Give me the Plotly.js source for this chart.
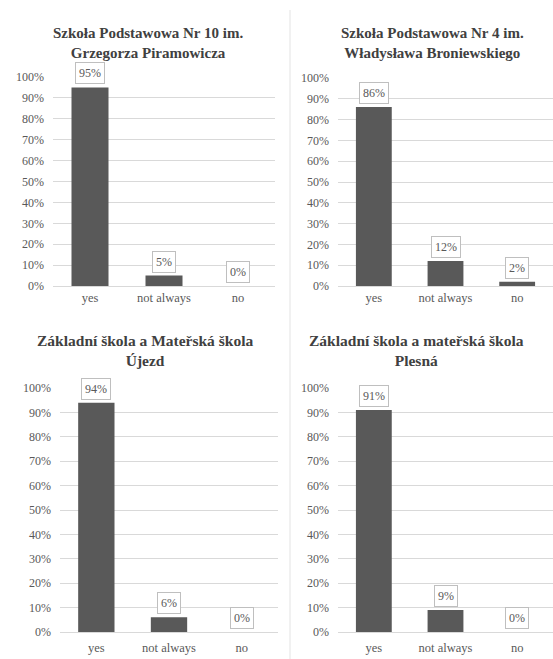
<!DOCTYPE html>
<html>
<head>
<meta charset="utf-8">
<script src="https://cdn.plot.ly/plotly-3.0.1.min.js"></script>
<style>
  html, body { margin: 0; padding: 0; background: #fff; }
  #chart { width: 553px; height: 659px; }
</style>
</head>
<body>
<div id="chart"></div>
<script>
const categories = ['yes', 'not always', 'no'];

const schoolTitles = [
  'Szkoła Podstawowa Nr 10 im.<br>Grzegorza Piramowicza',
  'Szkoła Podstawowa Nr 4 im.<br>Władysława Broniewskiego',
  'Základní škola a Mateřská škola<br>Újezd',
  'Základní škola a mateřská škola<br>Plesná'
];

const valuesPiramowicza = [95, 5, 0];
const valuesBroniewskiego = [86, 12, 2];
const valuesUjezd = [94, 6, 0];
const valuesPlesna = [91, 9, 0];

const allValues = [valuesPiramowicza, valuesBroniewskiego, valuesUjezd, valuesPlesna];

const W = 553;
const H = 659;
const px = v => v / W;
const py = v => (H - v) / H;

// panel boxes in pixels: [left, right], [top(100%), bottom(0%)]
const panels = [
  { x: [53, 275], y: [77, 286], titleX: 148, titleY: 43, titleSize: 15 },
  { x: [338, 553], y: [78, 286], titleX: 432, titleY: 43, titleSize: 15 },
  { x: [60, 278], y: [388, 632], titleX: 145, titleY: 350, titleSize: 15.5 },
  { x: [338, 553], y: [388, 632], titleX: 416, titleY: 350, titleSize: 15.5 }
];

const fontFamily = 'Liberation Serif';
const textGray = '#595959';

const data = [];
const annotations = [];
const layout = {
  width: W,
  height: H,
  margin: { l: 0, r: 0, t: 0, b: 0 },
  paper_bgcolor: '#fff',
  plot_bgcolor: '#fff',
  showlegend: false,
  bargap: 0.5,
  font: { family: fontFamily, color: textGray, size: 12 },
  shapes: [
    {
      type: 'line', xref: 'paper', yref: 'paper',
      x0: px(290), x1: px(290), y0: 0, y1: py(10),
      line: { color: '#e3e3e3', width: 1 }
    }
  ]
};

panels.forEach((p, i) => {
  const n = i + 1;
  const xa = n === 1 ? 'x' : 'x' + n;
  const ya = n === 1 ? 'y' : 'y' + n;
  const vals = allValues[i];

  data.push({
    type: 'bar',
    x: categories,
    y: vals,
    xaxis: xa,
    yaxis: ya,
    marker: { color: '#595959', line: { width: 0 } },
    hoverinfo: 'x+y'
  });

  layout['xaxis' + (n === 1 ? '' : n)] = {
    domain: [px(p.x[0]), px(p.x[1])],
    anchor: ya,
    showgrid: false,
    showline: false,
    zeroline: false,
    ticks: '',
    tickfont: { size: 12.5, color: textGray, family: fontFamily },
    ticklabelstandoff: i < 2 ? 2 : 6,
    fixedrange: true
  };

  layout['yaxis' + (n === 1 ? '' : n)] = {
    domain: [py(p.y[1]), py(p.y[0])],
    anchor: xa,
    range: [0, 100],
    dtick: 10,
    ticksuffix: '%',
    showgrid: true,
    gridcolor: '#d9d9d9',
    gridwidth: 1,
    zeroline: true,
    zerolinecolor: '#d9d9d9',
    zerolinewidth: 1,
    showline: false,
    ticks: '',
    ticklabelstandoff: 8,
    tickfont: { size: 12, color: textGray, family: fontFamily },
    fixedrange: true
  };

  vals.forEach((v, k) => {
    annotations.push({
      xref: xa,
      yref: ya,
      x: categories[k],
      y: v,
      yanchor: 'bottom',
      yshift: 3,
      text: v + '%',
      showarrow: false,
      font: { size: 12, color: textGray, family: fontFamily },
      bgcolor: '#fff',
      bordercolor: '#bfbfbf',
      borderwidth: 1,
      borderpad: 3
    });
  });

  annotations.push({
    xref: 'paper',
    yref: 'paper',
    x: px(p.titleX),
    y: py(p.titleY),
    xanchor: 'center',
    yanchor: 'middle',
    text: '<b>' + schoolTitles[i] + '</b>',
    showarrow: false,
    font: { size: p.titleSize, color: '#404040', family: fontFamily }
  });
});

layout.annotations = annotations;

Plotly.newPlot('chart', data, layout, { displayModeBar: false, staticPlot: true });
</script>
</body>
</html>
